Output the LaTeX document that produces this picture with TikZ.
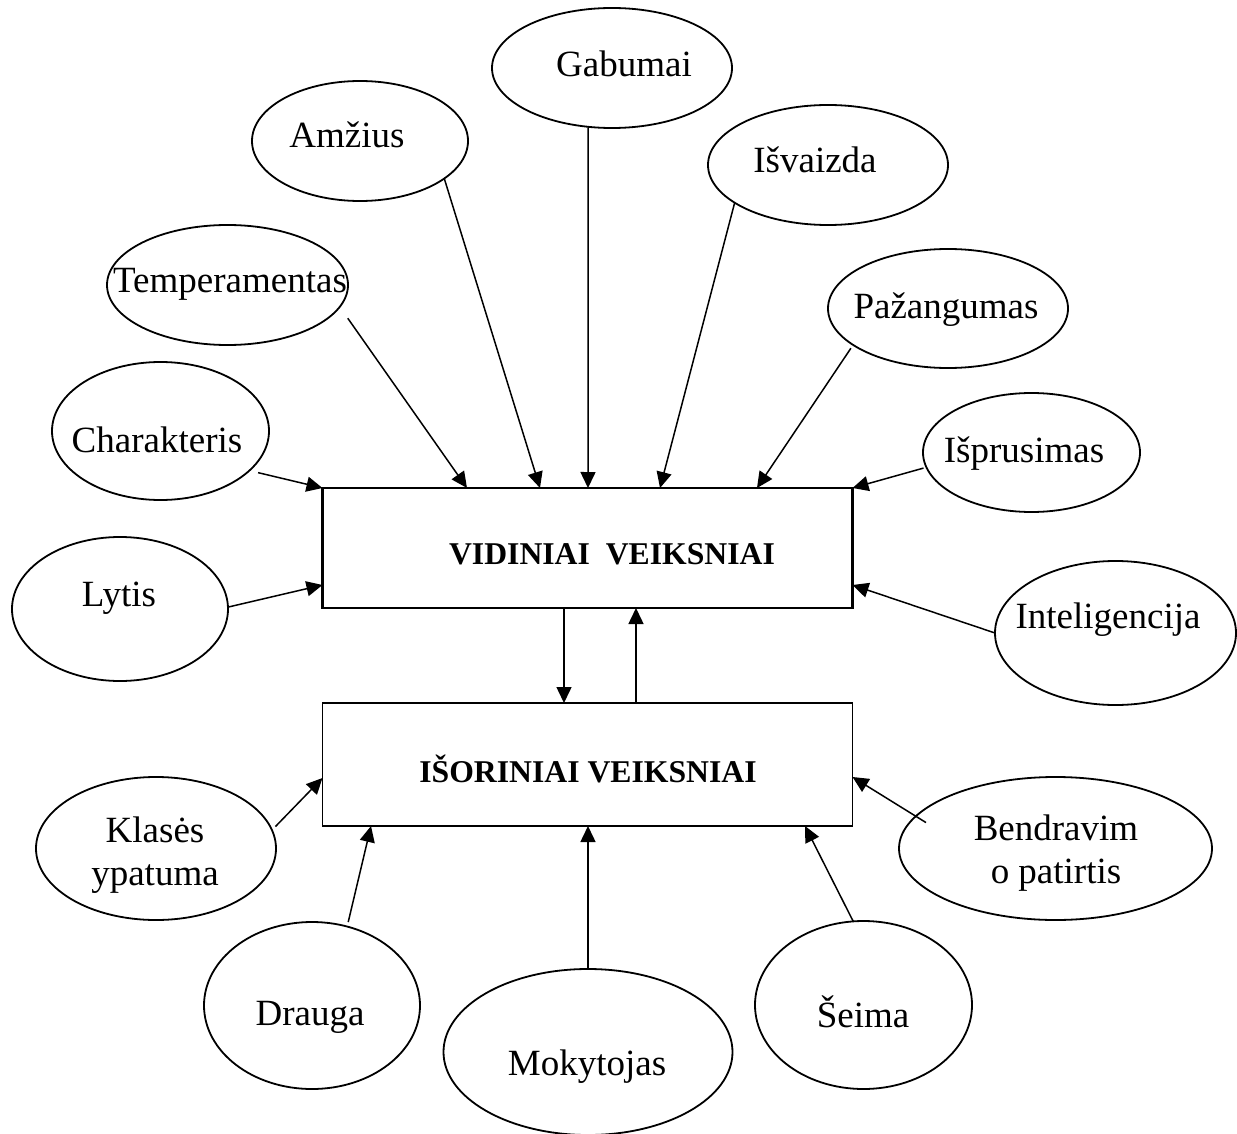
\documentclass[tikz,border=0pt]{standalone}
\usepackage{fontspec}
\setmainfont{Liberation Serif}
\usetikzlibrary{shapes.geometric,arrows.meta}

\begin{document}
\begin{tikzpicture}[x=1pt,y=-1pt]
    \tikzset{oval/.style = {ellipse, draw, line width=1.8pt, inner sep=0pt, outer sep=0pt}}
    \tikzset{factor/.style = {rectangle, draw, inner sep=0pt, outer sep=0pt, minimum width=530pt}}
    \tikzset{lbl/.style = {anchor=base, inner sep=0pt, align=center, font=\fontsize{37}{43}\selectfont}}
    \tikzset{boxlbl/.style = {anchor=base, inner sep=0pt, font=\fontsize{31.7}{38}\selectfont\bfseries}}
    \tikzset{link/.style = {line width=1.5pt, -{Triangle[length=16pt,width=15pt]}}}
    \useasboundingbox (0,0) rectangle (1237,1134);

    % boxes
    \node[factor, line width=2.2pt, minimum height=120pt] (vid) at (587.5,548) {};
    \node[factor, line width=1.4pt, minimum height=123pt] (iso) at (587.5,764.5) {};
    \node[boxlbl] (vidt) at (612,564) {VIDINIAI\ \ VEIKSNIAI};
    \node[boxlbl] (isot) at (588,782) {IŠORINIAI VEIKSNIAI};

    % inner factors
    \node[oval, minimum width=240pt, minimum height=120pt] (gab) at (612,68) {};
    \node[oval, minimum width=216pt, minimum height=120pt] (amz) at (360,141) {};
    \node[oval, minimum width=240pt, minimum height=120pt] (isv) at (828,165) {};
    \node[oval, minimum width=241pt, minimum height=120pt] (tem) at (227.5,285) {};
    \node[oval, minimum width=240pt, minimum height=119pt] (paz) at (948,308.5) {};
    \node[oval, minimum width=217pt, minimum height=138pt] (cha) at (160.5,431) {};
    \node[oval, minimum width=217pt, minimum height=119pt] (ipr) at (1031.5,452.5) {};
    \node[oval, minimum width=216pt, minimum height=144pt] (lyt) at (120,609) {};
    \node[oval, minimum width=241pt, minimum height=144pt] (int) at (1115.5,633) {};

    \node[lbl] (gabt) at (624,77) {Gabumai};
    \node[lbl] (amzt) at (347,148) {Amžius};
    \node[lbl] (isvt) at (815,173) {Išvaizda};
    \node[lbl] (temt) at (230,292) {Temperamentas};
    \node[lbl] (pazt) at (946,318) {Pažangumas};
    \node[lbl] (chat) at (157,452) {Charakteris};
    \node[lbl] (iprt) at (1024,462) {Išprusimas};
    \node[lbl] (lytt) at (119,606) {Lytis};
    \node[lbl] (intt) at (1108,628) {Inteligencija};

    % outer factors
    \node[oval, minimum width=240pt, minimum height=143pt] (kla) at (156,848.5) {};
    \node[oval, minimum width=313pt, minimum height=143pt] (ben) at (1055.5,848.5) {};
    \node[oval, minimum width=216pt, minimum height=167pt] (dra) at (312,1005.5) {};
    \node[oval, minimum width=289pt, minimum height=166pt] (mok) at (588,1052) {};
    \node[oval, minimum width=217pt, minimum height=168pt] (sei) at (863.5,1005) {};

    \node[lbl] (klat) at (155,885) {Klasės\\ypatuma};
    \node[lbl] (bent) at (1056,883) {Bendravim\\o patirtis};
    \node[lbl] (drat) at (310,1025) {Drauga};
    \node[lbl] (mokt) at (587,1075) {Mokytojas};
    \node[lbl] (seit) at (863,1027) {Šeima};

    % arrows into the inner box
    \draw[link, shorten <=9pt] (cha.-24.3) -- (vid.north west);
    \draw[link, shorten <=14pt] (tem.-11.9) -- ([xshift=144.5pt]vid.north west);
    \draw[link] (amz.-24.4) -- ([xshift=217.5pt]vid.north west);
    \draw[link] (gab.-112) -- ([xshift=265.5pt]vid.north west);
    \draw[link] (isv.-158.9) -- ([xshift=337.5pt]vid.north west);
    \draw[link, shorten <=4pt] (paz.-159.4) -- ([xshift=434.5pt]vid.north west);
    \draw[link, shorten <=3pt] (ipr.-172.9) -- (vid.north east);
    \draw[link] (lyt.1) -- ([yshift=-97pt]vid.north west);
    \draw[link] (int.west) -- ([yshift=-97pt]vid.north east);

    % between the boxes
    \draw[link] ([xshift=241.5pt]vid.south west) -- ([xshift=241.5pt]iso.north west);
    \draw[link] ([xshift=313.5pt]iso.north west) -- ([xshift=313.5pt]vid.south west);

    % arrows into the outer box
    \draw[link, shorten <=5pt] (kla.9.7) -- ([yshift=-75pt]iso.north west);
    \draw[link, shorten <=-12pt] (ben.167.9) -- ([yshift=-74pt]iso.north east);
    \draw[link, shorten <=4.6pt] (dra.66.2) -- ([xshift=48.5pt]iso.south west);
    \draw[link] (mok.north) -- ([xshift=265.5pt]iso.south west);
    \draw[link] (sei.97.8) -- ([xshift=482.5pt]iso.south west);
\end{tikzpicture}
\end{document}
